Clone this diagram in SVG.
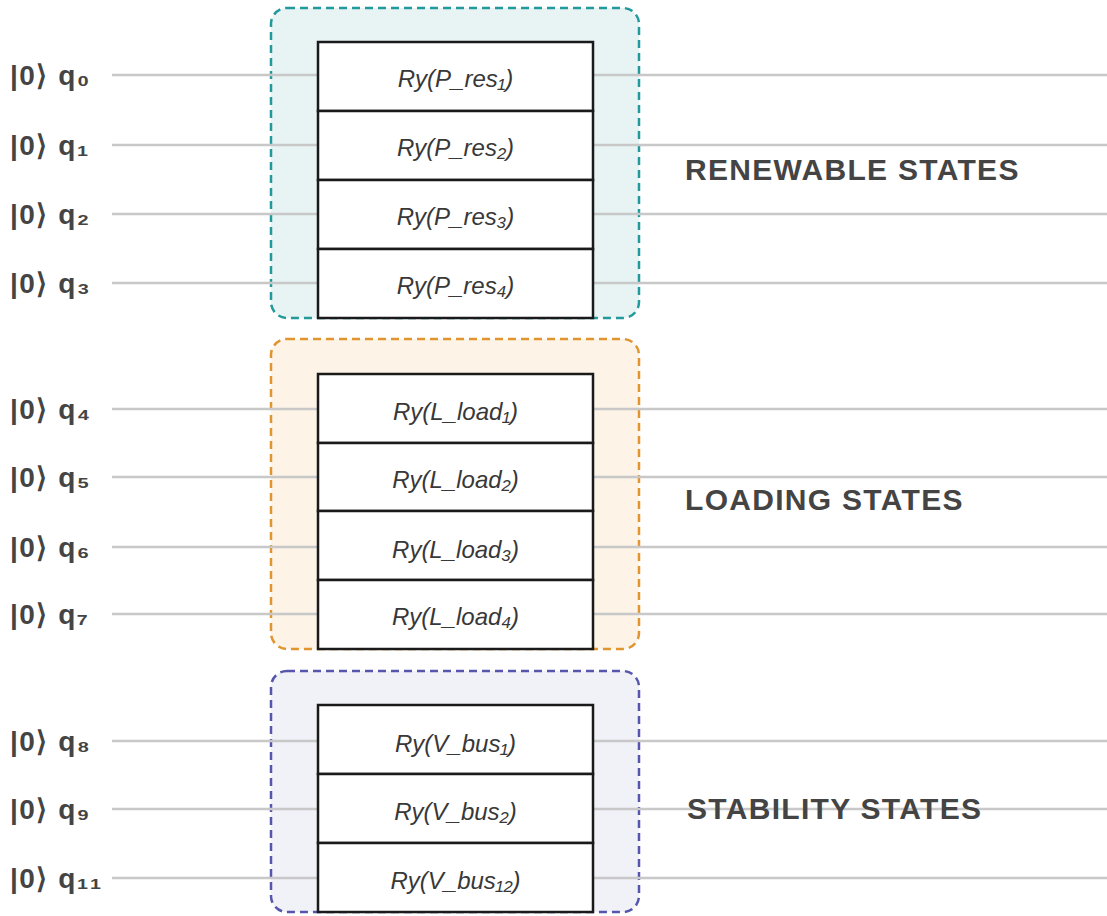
<svg xmlns="http://www.w3.org/2000/svg" width="1107" height="916" viewBox="0 0 1107 916">
<style>
.wire{stroke:#c8c8c8;stroke-width:2.5;fill:none}
.gate{fill:#ffffff;stroke:#1a1a1a;stroke-width:2.5}
.gt{font-family:"Liberation Sans",Arial,sans-serif;font-style:italic;font-size:24px;fill:#383838;text-anchor:middle;dominant-baseline:central}
.ql{font-family:"Liberation Sans",Arial,sans-serif;font-weight:bold;font-size:28px;fill:#444;letter-spacing:1.5px;dominant-baseline:central}
.sl{font-family:"Liberation Sans",Arial,sans-serif;font-weight:bold;font-size:30px;fill:#444;letter-spacing:1.3px;dominant-baseline:central}
.box{stroke-width:2.5;stroke-dasharray:8 5}
</style>
<rect width="1107" height="916" fill="#ffffff"/>
<g id="group-renewable"><rect class="box" x="271" y="8" width="368" height="310" rx="16" fill="#e8f4f4" stroke="#22999a"/></g>
<g id="group-loading"><rect class="box" x="271" y="339" width="368" height="310" rx="16" fill="#fdf3e6" stroke="#e0952e"/></g>
<g id="group-stability"><rect class="box" x="271" y="671" width="368" height="241" rx="16" fill="#f1f1f8" stroke="#5656ad"/></g>
<g id="wires">
<line class="wire" x1="112" y1="75" x2="1107" y2="75"/>
<line class="wire" x1="112" y1="145" x2="1107" y2="145"/>
<line class="wire" x1="112" y1="214" x2="1107" y2="214"/>
<line class="wire" x1="112" y1="283" x2="1107" y2="283"/>
<line class="wire" x1="112" y1="409" x2="1107" y2="409"/>
<line class="wire" x1="112" y1="477" x2="1107" y2="477"/>
<line class="wire" x1="112" y1="547" x2="1107" y2="547"/>
<line class="wire" x1="112" y1="614" x2="1107" y2="614"/>
<line class="wire" x1="112" y1="741" x2="1107" y2="741"/>
<line class="wire" x1="112" y1="809" x2="1107" y2="809"/>
<line class="wire" x1="112" y1="878" x2="1107" y2="878"/>
</g>
<g id="labels">
<text class="ql" x="10" y="75">|0⟩ q₀</text>
<text class="ql" x="10" y="145">|0⟩ q₁</text>
<text class="ql" x="10" y="214">|0⟩ q₂</text>
<text class="ql" x="10" y="283">|0⟩ q₃</text>
<text class="ql" x="10" y="409">|0⟩ q₄</text>
<text class="ql" x="10" y="477">|0⟩ q₅</text>
<text class="ql" x="10" y="547">|0⟩ q₆</text>
<text class="ql" x="10" y="614">|0⟩ q₇</text>
<text class="ql" x="10" y="741">|0⟩ q₈</text>
<text class="ql" x="10" y="809">|0⟩ q₉</text>
<text class="ql" x="10" y="878">|0⟩ q₁₁</text>
</g>
<g id="gate-p1"><rect class="gate" x="318" y="42" width="275" height="69"/><text class="gt" x="455.5" y="78">Ry(P_res₁)</text></g>
<g id="gate-p2"><rect class="gate" x="318" y="111" width="275" height="69"/><text class="gt" x="455.5" y="147">Ry(P_res₂)</text></g>
<g id="gate-p3"><rect class="gate" x="318" y="180" width="275" height="69"/><text class="gt" x="455.5" y="216">Ry(P_res₃)</text></g>
<g id="gate-p4"><rect class="gate" x="318" y="249" width="275" height="69"/><text class="gt" x="455.5" y="285">Ry(P_res₄)</text></g>
<g id="gate-l1"><rect class="gate" x="318" y="374" width="275" height="69"/><text class="gt" x="455.5" y="411">Ry(L_load₁)</text></g>
<g id="gate-l2"><rect class="gate" x="318" y="443" width="275" height="68"/><text class="gt" x="455.5" y="479">Ry(L_load₂)</text></g>
<g id="gate-l3"><rect class="gate" x="318" y="511" width="275" height="69"/><text class="gt" x="455.5" y="549">Ry(L_load₃)</text></g>
<g id="gate-l4"><rect class="gate" x="318" y="580" width="275" height="69"/><text class="gt" x="455.5" y="616">Ry(L_load₄)</text></g>
<g id="gate-v1"><rect class="gate" x="318" y="705" width="275" height="69"/><text class="gt" x="455.5" y="743">Ry(V_bus₁)</text></g>
<g id="gate-v2"><rect class="gate" x="318" y="774" width="275" height="69"/><text class="gt" x="455.5" y="811">Ry(V_bus₂)</text></g>
<g id="gate-v12"><rect class="gate" x="318" y="843" width="275" height="69"/><text class="gt" x="455.5" y="880">Ry(V_bus₁₂)</text></g>
<g id="section-labels">
<text class="sl" x="685" y="169">RENEWABLE STATES</text>
<text class="sl" x="685" y="499">LOADING STATES</text>
<text class="sl" x="687" y="808">STABILITY STATES</text>
</g>
</svg>
